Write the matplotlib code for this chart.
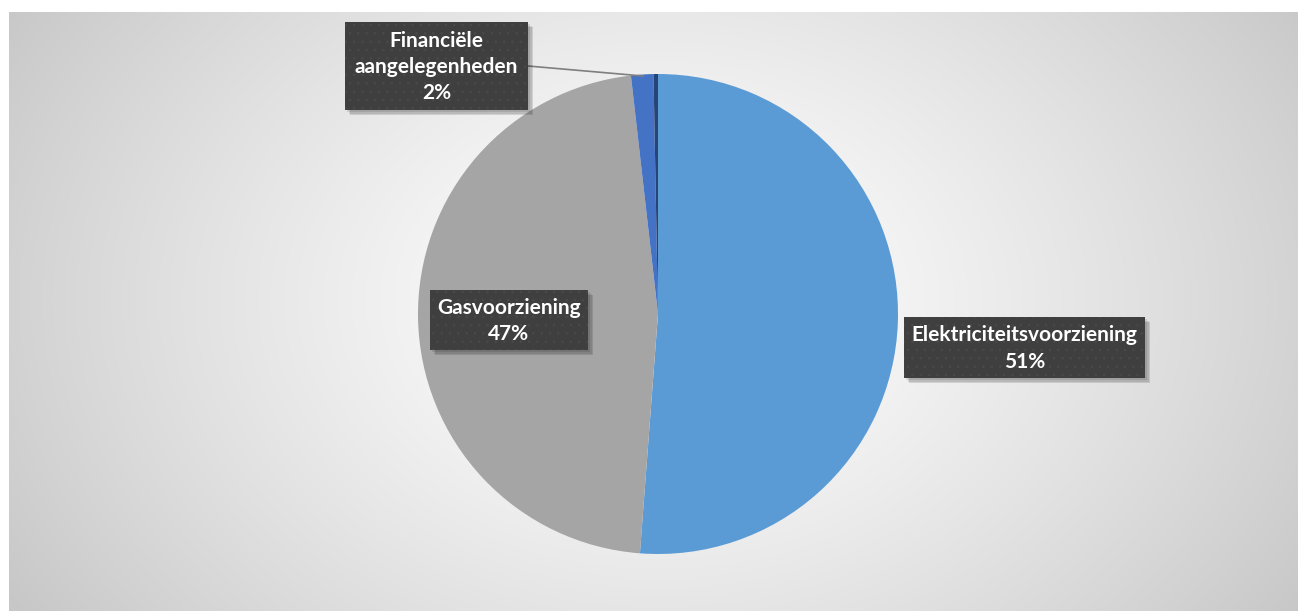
import numpy as np
import matplotlib
matplotlib.use("Agg")
import matplotlib.pyplot as plt
from matplotlib.patches import Rectangle

W, H = 1298, 611
categories = ["Elektriciteitsvoorziening", "Gasvoorziening", "Financiële\naangelegenheden", "Overig"]
values = [51.2, 47.0, 1.5, 0.3]
labels = ["Elektriciteitsvoorziening\n51%", "Gasvoorziening\n47%", "Financiële\naangelegenheden\n2%", None]
colors = ["#5B9BD5", "#A5A5A5", "#4472C4", "#264478"]

plt.rcParams["hatch.linewidth"] = 0.6
fig = plt.figure(figsize=(W / 100, H / 100), dpi=100)

def fx(x):
    return x / W

def fy(y):
    return 1 - y / H

# background gradient
bg = fig.add_axes([0, 0, 1, 1], zorder=0)
bg.set_xlim(0, W)
bg.set_ylim(H, 0)
bg.axis("off")
X, Y = np.meshgrid(np.linspace(9, W, 400), np.linspace(12, H, 200))
cx, cy = 660, 300
d = np.sqrt(((X - cx) / 700) ** 2 + ((Y - cy) / 520) ** 2)
d = np.clip(d / d.max(), 0, 1)
val = 1.0 - 0.22 * d ** 1.3
img = np.dstack([val, val, val])
bg.imshow(img, extent=[9, W, H, 12], interpolation="bilinear", aspect="auto")

# pie
R = 240
pcx, pcy = 658, 314
ax = fig.add_axes([fx(pcx - R), fy(pcy + R), 2 * R / W, 2 * R / H], zorder=1)
ax.pie(values, colors=colors, startangle=90, counterclock=False,
       wedgeprops=dict(linewidth=0), radius=1)
ax.set_xlim(-1, 1)
ax.set_ylim(-1, 1)
ax.set_aspect("auto")
ax.axis("off")

# overlay for labels
ov = fig.add_axes([0, 0, 1, 1], zorder=2)
ov.set_xlim(0, W)
ov.set_ylim(H, 0)
ov.axis("off")
ov.patch.set_alpha(0)

# leader line
ov.plot([528, 643], [66, 76], color="#7f7f7f", lw=1.2, zorder=5)

boxes = [
    (904, 317, 1145, 378),
    (430, 290, 588, 350),
    (345, 22, 528, 110),
]
for (x0, y0, x1, y1), lab in zip(boxes, labels[:3]):
    for i, a in enumerate([0.10, 0.10, 0.12]):
        off = 2 + i * 1.5
        ov.add_patch(Rectangle((x0 + off, y0 + off), x1 - x0, y1 - y0,
                               facecolor="#000000", alpha=a, lw=0, zorder=6))
    ov.add_patch(Rectangle((x0, y0), x1 - x0, y1 - y0, facecolor="#3F3F3F",
                           edgecolor="#494949", hatch="..", lw=0, zorder=7))
    ov.text((x0 + x1) / 2, (y0 + y1) / 2 + 1, lab, ha="center", va="center",
            color="white", fontsize=15, fontweight="bold", family="Lato",
            linespacing=1.4, zorder=8)

fig.savefig("out.png", dpi=100)
